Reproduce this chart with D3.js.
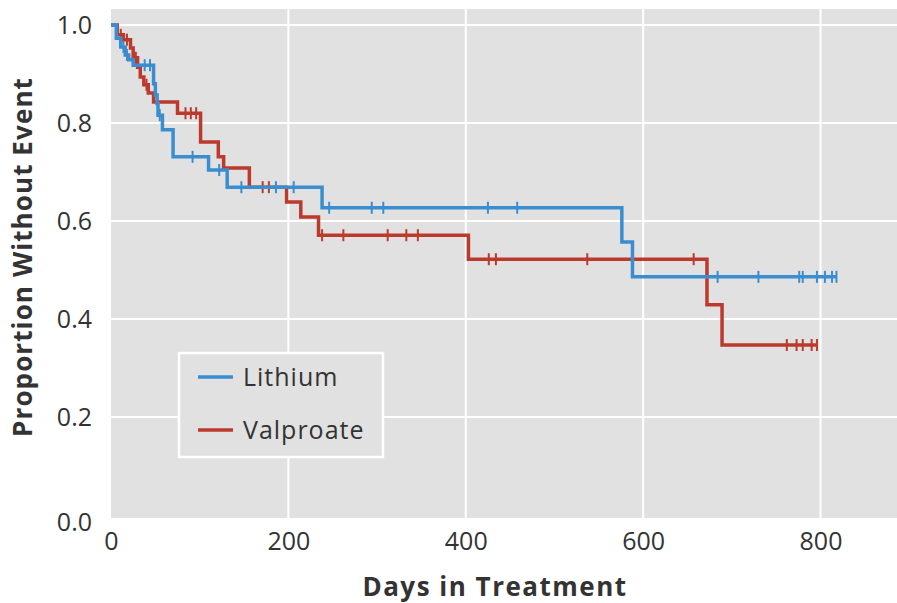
<!DOCTYPE html>
<html>
<head>
<meta charset="utf-8">
<script src="https://cdn.jsdelivr.net/npm/d3@7"></script>
<style>
  html, body { margin: 0; padding: 0; background: #ffffff; }
  svg { display: block; }
  text { font-family: "Open Sans", "Noto Sans", sans-serif; fill: #333333; }
</style>
</head>
<body>
<svg id="chart" width="897" height="603"></svg>
<script>
// Kaplan-Meier estimates: event days and the survival proportion after each event
const lithiumEventDays = [6, 11, 16, 20, 25, 48, 50, 52, 53, 58, 70, 110, 131, 238, 576, 588];
const lithiumSurvival  = [0.973, 0.955, 0.939, 0.929, 0.918, 0.88, 0.857, 0.84, 0.816, 0.786, 0.731, 0.704, 0.669, 0.627, 0.557, 0.486];
const lithiumCensorDays = [14, 18, 38, 44, 55, 92, 122, 147, 186, 206, 246, 294, 307, 425, 458, 684, 730, 776, 780, 796, 805, 813, 818];
const lithiumLastDay = 818;

const valproateEventDays = [7, 14, 22, 25, 30, 33, 37, 42, 48, 75, 101, 121, 127, 156, 198, 214, 234, 403, 672, 689];
const valproateSurvival  = [0.98, 0.97, 0.953, 0.933, 0.914, 0.894, 0.878, 0.861, 0.843, 0.82, 0.761, 0.731, 0.708, 0.669, 0.639, 0.608, 0.571, 0.522, 0.429, 0.347];
const valproateCensorDays = [11, 18, 28, 40, 84, 90, 96, 171, 178, 238, 262, 312, 333, 346, 426, 434, 537, 657, 762, 773, 780, 790, 796];
const valproateLastDay = 796;

const xTicks = [0, 200, 400, 600, 800];
const yTicks = [0, 0.2, 0.4, 0.6, 0.8, 1.0];
const seriesNames = ["Lithium", "Valproate"];
const seriesColors = ["#3a8ed0", "#bc3a2d"];

const svg = d3.select("#chart");

const x = d3.scaleLinear().domain([0, 800]).range([111, 820.5]);
const y = d3.scaleLinear().domain([0, 1]).range([515, 25]);

const panelLeft = x(0), panelRight = 897, panelTop = 9, panelBottom = 518;

// plotting panel
svg.append("rect")
  .attr("x", panelLeft).attr("y", panelTop)
  .attr("width", panelRight - panelLeft).attr("height", panelBottom - panelTop)
  .attr("fill", "#e1e1e1");

// white grid
const grid = svg.append("g").attr("stroke", "#ffffff").attr("stroke-width", 2);
grid.selectAll("line.v").data(xTicks.filter(d => d > 0)).join("line")
  .attr("class", "v")
  .attr("x1", d => x(d)).attr("x2", d => x(d))
  .attr("y1", panelTop).attr("y2", panelBottom);
grid.selectAll("line.h").data(yTicks.filter(d => d > 0)).join("line")
  .attr("class", "h")
  .attr("x1", panelLeft).attr("x2", panelRight)
  .attr("y1", d => y(d)).attr("y2", d => y(d));

// survival step curves
function stepPoints(days, surv, lastDay) {
  const pts = [[0, 1]];
  days.forEach((d, i) => pts.push([d, surv[i]]));
  pts.push([lastDay, surv[surv.length - 1]]);
  return pts;
}
function survivalAt(days, surv, t) {
  let s = 1;
  days.forEach((d, i) => { if (d <= t) s = surv[i]; });
  return s;
}

const line = d3.line()
  .x(d => x(d[0])).y(d => y(d[1]))
  .curve(d3.curveStepAfter);

const series = [
  { days: lithiumEventDays, surv: lithiumSurvival, censor: lithiumCensorDays, last: lithiumLastDay, color: seriesColors[0] },
  { days: valproateEventDays, surv: valproateSurvival, censor: valproateCensorDays, last: valproateLastDay, color: seriesColors[1] }
];

// draw valproate first so lithium sits on top where they overlap early on
[series[1], series[0]].forEach(s => {
  const g = svg.append("g");
  g.append("path")
    .datum(stepPoints(s.days, s.surv, s.last))
    .attr("d", line)
    .attr("fill", "none")
    .attr("stroke", s.color)
    .attr("stroke-width", 3.5)
    .attr("stroke-linejoin", "miter");
  g.selectAll("line.censor").data(s.censor).join("line")
    .attr("class", "censor")
    .attr("x1", d => x(d)).attr("x2", d => x(d))
    .attr("y1", d => y(survivalAt(s.days, s.surv, d)) - 6)
    .attr("y2", d => y(survivalAt(s.days, s.surv, d)) + 6)
    .attr("stroke", s.color)
    .attr("stroke-width", 2);
});

// axes (labels only)
const xAxis = svg.append("g")
  .attr("transform", `translate(0,${y(0)})`)
  .call(d3.axisBottom(x).tickValues(xTicks).tickSize(0).tickPadding(17).tickFormat(d3.format("d")));
const yAxis = svg.append("g")
  .attr("transform", `translate(${panelLeft},0)`)
  .call(d3.axisLeft(y).tickValues(yTicks).tickSize(0).tickPadding(19).tickFormat(d3.format(".1f")));
[xAxis, yAxis].forEach(a => {
  a.select(".domain").remove();
  a.selectAll("text").attr("font-size", 25).attr("font-family", "'Open Sans', sans-serif").attr("fill", "#3a3a3a");
});
yAxis.selectAll(".tick").filter(d => d === 0).select("text").attr("dy", "0.62em");

// axis titles
svg.append("text")
  .attr("x", 495).attr("y", 596)
  .attr("text-anchor", "middle")
  .attr("font-size", 26).attr("font-weight", "bold")
  .attr("letter-spacing", 1.5)
  .text("Days in Treatment");
svg.append("text")
  .attr("transform", "translate(32,257) rotate(-90)")
  .attr("text-anchor", "middle")
  .attr("font-size", 26).attr("font-weight", "bold")
  .attr("letter-spacing", 1.1)
  .text("Proportion Without Event");

// legend
const legend = svg.append("g");
legend.append("rect")
  .attr("x", 179).attr("y", 353).attr("width", 204).attr("height", 104)
  .attr("fill", "#e1e1e1").attr("stroke", "#ffffff").attr("stroke-width", 2.5);
seriesNames.forEach((name, i) => {
  const cy = 377 + i * 53;
  legend.append("line")
    .attr("x1", 198).attr("x2", 233).attr("y1", cy).attr("y2", cy)
    .attr("stroke", seriesColors[i]).attr("stroke-width", 3.5);
  legend.append("text")
    .attr("x", 243).attr("y", cy).attr("dy", "0.35em")
    .attr("font-size", 25)
    .attr("letter-spacing", 1)
    .text(name);
});
</script>
</body>
</html>
